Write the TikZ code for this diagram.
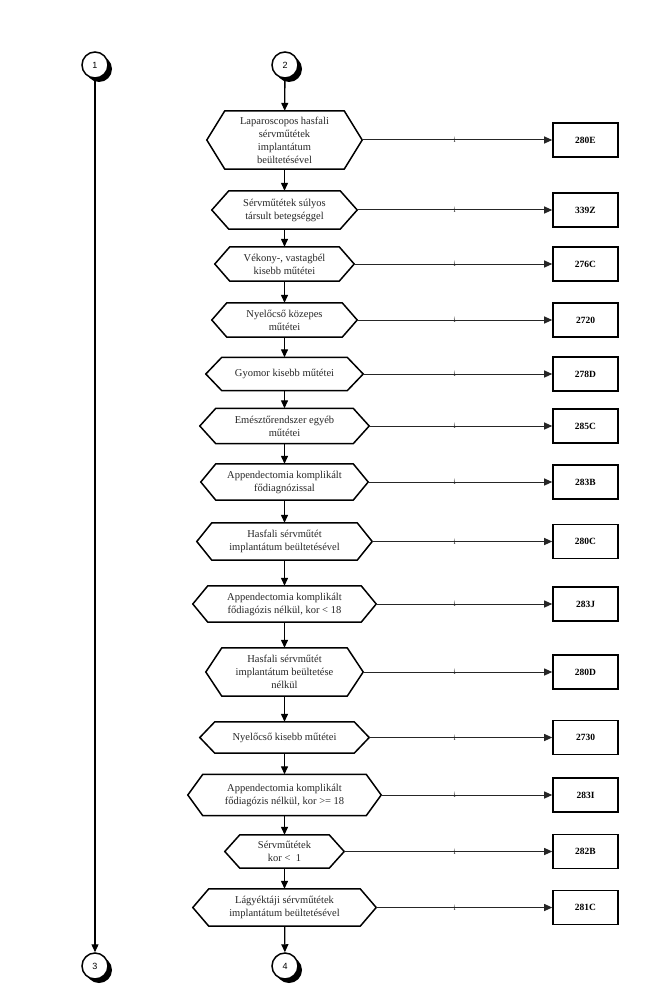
\documentclass[tikz,border=0pt]{standalone}
\usepackage{fontspec}
\setmainfont{Liberation Serif}
\newfontfamily\circfont{Liberation Sans}
\usetikzlibrary{calc,arrows.meta}
\tikzset{
 hexline/.style={draw=black, line width=1.5pt, line join=miter},
 hextext/.style={inner sep=0pt, align=center, font=\fontsize{10.5}{13}\selectfont, text=black!85},
 codebox/.style={draw=black, line width=1.6pt, minimum width=65pt, minimum height=34pt, inner sep=0pt, font=\fontsize{9.5}{11}\selectfont\bfseries},
 hline/.style={line width=1pt, draw=black!85, -{Triangle[length=8pt,width=7pt]}},
 varrow/.style={line width=1.3pt, -{Triangle[length=8pt,width=7pt]}},
 ilabel/.style={font=\fontsize{8}{8}\selectfont, inner sep=0pt, text=black!85},
 conn/.style={circle, draw=black, line width=1.5pt, fill=white, minimum size=26pt, inner sep=0pt, font=\circfont\fontsize{9}{9}\selectfont},
}
% #1 name, #2 cy, #3 left point x, #4 half height, #5 inset, #6 text, #7 code
\newcommand\flowrow[7]{%
 \pgfmathsetmacro\ipos{(#3-114)/(#3-16)}%
 \node[hextext, minimum width={569pt-2*#3pt-2*#5pt}, minimum height={2*#4pt}] (#1) at (284.5,#2) {#6};
 \coordinate (#1L) at ($(#1.west)+(-#5,0)$);
 \coordinate (#1R) at ($(#1.east)+(#5,0)$);
 \draw[hexline] (#1.north west) -- (#1.north east) -- (#1R) -- (#1.south east) -- (#1.south west) -- (#1L) -- cycle;
 \node[codebox] (#1b) at (585.5,#2) {#7};
 \draw[hline] (#1R) -- node[ilabel, pos=\ipos] {i} (#1b.west);
}
\newcommand\flowconn[4]{%
 \fill[black] (#2+4,#3+4) circle[radius=13pt];
 \node[conn] (#1) at (#2,#3) {#4};
}
\begin{document}
\begin{tikzpicture}[x=1pt,y=-1pt]
\fill[white] (0,0) rectangle (671,1008);
\useasboundingbox (0,0) rectangle (671,1008);

\flowconn{c1}{95}{65}{1}
\flowconn{c2}{285}{65}{2}
\flowconn{c3}{95}{966}{3}
\flowconn{c4}{285}{966}{4}

\flowrow{h1}{140}{207}{29}{18}{Laparoscopos hasfali\\sérvműtétek\\implantátum\\beültetésével}{280E}
\flowrow{h2}{210}{212}{19}{17}{Sérvműtétek súlyos\\társult betegséggel}{339Z}
\flowrow{h3}{264}{215}{17}{15}{Vékony-, vastagbél\\kisebb műtétei}{276C}
\flowrow{h4}{320}{212}{17}{15}{Nyelőcső közepes\\műtétei}{2720}
\flowrow{h5}{374}{206}{16.5}{16}{Gyomor kisebb műtétei}{278D}
\flowrow{h6}{426}{200}{17.5}{16}{Emésztőrendszer egyéb\\műtétei}{285C}
\flowrow{h7}{482}{201}{18}{15}{Appendectomia komplikált\\fődiagnózissal}{283B}
\flowrow{h8}{541.5}{197}{18.5}{15}{Hasfali sérvműtét\\implantátum beültetésével}{280C}
\flowrow{h9}{604}{193}{18}{15}{Appendectomia komplikált\\fődiagózis nélkül, kor < 18}{283J}
\flowrow{h10}{672}{206}{24}{16}{Hasfali sérvműtét\\implantátum beültetése\\nélkül}{280D}
\flowrow{h11}{737.5}{200}{15.5}{15}{Nyelőcső kisebb műtétei}{2730}
\flowrow{h12}{795}{188}{20.5}{15}{Appendectomia komplikált\\fődiagózis nélkül, kor >= 18}{283I}
\flowrow{h13}{851.5}{225}{16.5}{15}{Sérvműtétek\\kor <\ \ 1}{282B}
\flowrow{h14}{907.5}{193}{18.5}{16}{Lágyéktáji sérvműtétek\\implantátum beültetésével}{281C}

\draw[varrow] (c1) -- (c3);
\draw[varrow] (c2) -- (h1);
\foreach \a/\b in {h1/h2,h2/h3,h3/h4,h4/h5,h5/h6,h6/h7,h7/h8,h8/h9,h9/h10,h10/h11,h11/h12,h12/h13,h13/h14}
  \draw[varrow] (\a) -- (\b);
\draw[varrow] (h14) -- (c4);
\end{tikzpicture}
\end{document}
